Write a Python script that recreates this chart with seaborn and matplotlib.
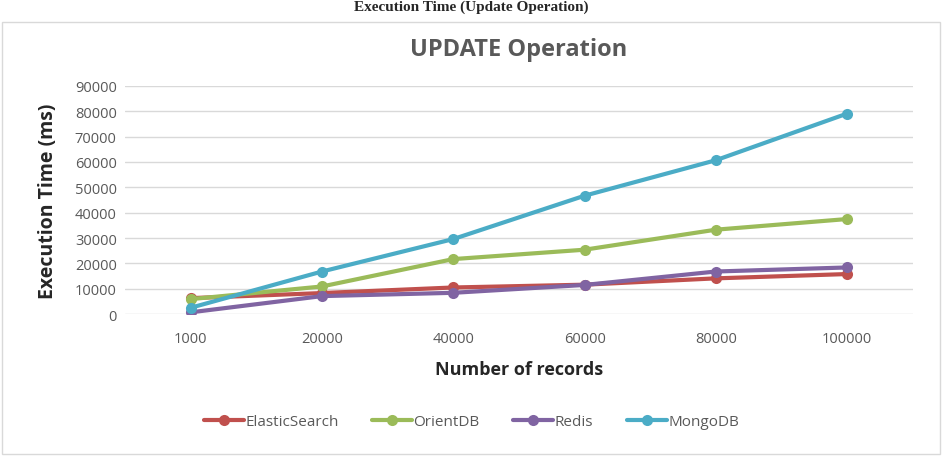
import pandas as pd
import seaborn as sns
import matplotlib.pyplot as plt
from matplotlib.patches import Rectangle

records = ['1000', '20000', '40000', '60000', '80000', '100000']
elastic = [6300, 8300, 10500, 11600, 14100, 15800]
orient = [5900, 10900, 21700, 25400, 33300, 37500]
redis = [700, 7100, 8400, 11500, 16800, 18400]
mongo = [2500, 16800, 29600, 46700, 60700, 79100]
series = ['ElasticSearch', 'OrientDB', 'Redis', 'MongoDB']
colors = ['#C0504D', '#9BBB59', '#8064A2', '#4BACC6']

data = pd.DataFrame({
    'Records': records * 4,
    'Time': elastic + orient + redis + mongo,
    'Database': [s for s in series for _ in records],
})

sns.set_style('white')
plt.rcParams['font.family'] = ['Open Sans', 'DejaVu Sans']

fig = plt.figure(figsize=(9.43, 4.6), dpi=100)
ax = fig.add_axes([0.1326, 0.315, 0.8354, 0.496])

# outer chart frame
fig.patches.append(Rectangle((0.002, 0.01), 0.995, 0.94, transform=fig.transFigure,
                             fill=False, edgecolor='#D9D9D9', linewidth=1))

sns.lineplot(data=data, x='Records', y='Time', hue='Database', palette=colors,
             marker='o', markersize=8, markeredgewidth=0, linewidth=3,
             sort=False, ax=ax, legend=False)

ax.set_xlim(-0.5, 5.5)
ax.set_ylim(0, 90000)
ax.set_yticks(range(0, 90001, 10000))
ax.grid(axis='y', color='#D9D9D9', linewidth=1)
ax.set_axisbelow(True)
for s in ax.spines.values():
    s.set_visible(False)
ax.tick_params(axis='both', length=0, labelsize=10.5, labelcolor='#595959')
ax.tick_params(axis='x', pad=12)
ax.tick_params(axis='y', pad=6)

ax.set_xlabel('Number of records', fontsize=13, fontweight='bold', labelpad=10)
ax.set_ylabel('Execution Time (ms)', fontsize=14, fontweight='bold', labelpad=12)
ax.set_title('UPDATE Operation', fontsize=17, fontweight='bold', color='#595959', pad=22)

handles = [plt.Line2D([], [], color=c, linewidth=3, marker='o', markersize=8, markeredgewidth=0)
           for c in colors]
fig.legend(handles, series, loc='center', bbox_to_anchor=(0.5, 1 - 423 / 460), ncol=4,
           frameon=False, fontsize=11, handlelength=2.6, handletextpad=0.1,
           columnspacing=2.2, labelcolor='#595959')

fig.text(0.5, 0.998, 'Execution Time (Update Operation)', ha='center', va='top',
         fontsize=11, fontweight='bold', family='Liberation Serif')

fig.savefig('out.png', dpi=100)
